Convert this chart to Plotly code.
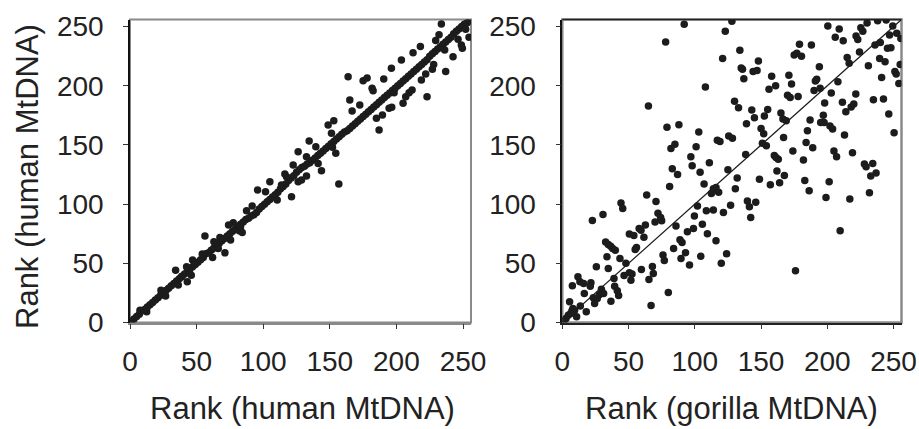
import plotly.graph_objects as go

# ---------------- data ----------------
tick_vals = [0, 50, 100, 150, 200, 250]
tick_text = ["0", "50", "100", "150", "200", "250"]

# left panel: main diagonal band
left_band_x = [1, 3, 5, 7, 9, 11, 13, 15, 17, 19, 21, 23, 25, 27, 29, 31, 33, 35, 37, 39,
               41, 43, 45, 47, 49, 51, 53, 55, 57, 59, 61, 63, 65, 67, 69, 71, 73, 75, 77, 79,
               81, 83, 85, 87, 89, 91, 93, 95, 97, 99, 101, 103, 105, 107, 109, 111, 113, 115, 117, 119,
               121, 123, 125, 127, 129, 131, 133, 135, 137, 139, 141, 143, 145, 147, 149, 151, 153, 155, 157, 159,
               161, 163, 165, 167, 169, 171, 173, 175, 177, 179, 181, 183, 185, 187, 189, 191, 193, 195, 197, 199,
               201, 203, 205, 207, 209, 211, 213, 215, 217, 219, 221, 223, 225, 227, 229, 231, 233, 235, 237, 239,
               241, 243, 245, 247, 249, 251, 253, 255]
left_band_y = [1, 3, 5, 7, 10, 11, 13, 15, 17, 19, 21, 23, 25, 27, 29, 31, 33, 35, 37, 39,
               41, 43, 45, 47, 49, 51, 53, 55, 58, 59, 61, 63, 65, 67, 69, 71, 73, 75, 77, 79,
               81, 83, 85, 87, 88, 90, 91, 93, 96, 98, 100, 102, 104, 106, 108, 110, 113, 115, 117, 120,
               122, 124, 127, 129, 131, 132, 134, 135, 137, 139, 141, 143, 145, 147, 149, 151, 153, 155, 157, 159,
               161, 162, 164, 166, 168, 170, 172, 174, 176, 178, 180, 182, 184, 186, 188, 190, 192, 194, 196, 198,
               200, 202, 204, 206, 208, 210, 212, 214, 216, 218, 220, 222, 225, 227, 229, 231, 233, 235, 237, 239,
               241, 244, 246, 248, 250, 252, 253, 255]

# left panel: points off the band
left_out_x = [163.75, 165, 166.75, 175, 178, 172.5, 181.75, 182.5, 190.5, 196.25, 198.25, 203.75, 212.5, 218,
              187, 189.5, 185, 194.5, 196.5, 205, 207, 209.5, 211.75, 218.75, 222, 223, 227, 228, 229.5,
              233.75, 232, 236.25, 237, 242.5, 246.25, 248.75, 249.5, 254.5, 252, 156.75, 154.5, 152,
              148.75, 153, 151.25, 143.75, 141.25, 139.5, 134.5, 132.5, 126.25, 126.25, 128.75, 132.5,
              122.5, 121.25, 116.25, 117.5, 113.75, 110.5, 105, 101.75, 95.75, 91.75, 87.5, 83, 82, 84.25,
              77.5, 74, 75.5, 71.25, 67.5, 66.25, 62, 63, 56.25, 54.25, 47, 48.5, 43, 46, 42.5, 34.25,
              36.25, 38.75, 23.25, 26.75, 12.5, 7.5]
left_out_y = [207.7, 188, 178.7, 204.3, 206.6, 183.8, 197.9, 195.9, 205.7, 214.8, 194.2, 221.8, 228, 233.1,
              162.6, 175.3, 172.5, 181, 181.8, 185.2, 190.8, 194.2, 196.4, 204.9, 210, 190.8, 213.9, 217.9, 238.2,
              252.3, 243.2, 230.3, 212, 224.6, 239.3, 234.5, 231.7, 241, 247.7, 117, 142.9, 148,
              166.9, 170.5, 159.8, 128.2, 134.4, 148.5, 153.3, 140, 144.3, 118.9, 120.3, 123.7,
              133, 106.3, 125.4, 123.2, 116.1, 103.4, 118.9, 110.5, 111.9, 98.4, 94.4, 80.9, 77.5, 76.1,
              84.3, 82.3, 69.6, 58.9, 71.9, 62.6, 55, 68.2, 73, 57.8, 52.7, 49.9, 34.4, 40, 47, 44.2,
              31.6, 38.6, 27.3, 22.3, 9, 10.4]

# right panel: gorilla rank vs human rank
right_x = [92, 78, 123, 128, 121, 134, 65, 108, 130, 133, 135, 136, 137, 144, 147, 148, 143, 139, 145, 150,
           152, 155, 152.5, 156, 158, 161, 165, 166.5, 169, 171, 173, 170, 172, 178, 175, 177, 179, 180.5, 188, 194,
           191, 192, 190, 194.6, 187, 198, 197, 195, 200.4, 203, 202, 204, 206, 209, 212, 208, 211.4, 214, 215, 216.5,
           218, 220, 221.5, 221.7, 223, 224.3, 225.3, 226.8, 230, 231, 238, 236, 240, 239.5, 243.6, 244.4, 247, 249.4,
           245.4, 248, 241, 242.4, 234.8, 246.4, 250.4, 252.4, 255.5, 252, 251, 255, 254,
           79, 88, 85, 82, 83, 87, 81, 103, 97, 101, 98, 104, 111, 107, 114, 116, 112.5, 118, 117, 119,
           125.6, 128.4, 125, 132, 130.6, 127, 121.6, 108.7, 114, 102, 99.7, 105.7, 109.5, 116, 124, 120, 104.5, 99,
           94.4, 88.8, 90.4, 85.8, 93, 89.6, 96, 84, 76, 77, 80, 67, 138.4, 148.8, 151, 154, 157, 160, 161.3, 163,
           162, 164, 167.6, 167, 174, 182, 184, 185, 189, 183, 186.3, 197.6, 205, 207, 201.4, 199, 213, 219, 217,
           209.7, 228, 229.3, 234.3, 236.8, 232.8, 231.8, 176, 139.7, 141.2, 142.2, 146,
           63.7, 70.7, 72.2, 74.2, 70, 75, 62.7, 58, 59.4, 61.6, 56, 55, 50.6, 54, 44.3, 45.6, 22.7, 30.7, 32.7,
           34.7, 36.5, 38, 40, 33.7, 34.7, 43.5, 48, 46.6, 50.6, 52.6, 51.8, 59.7, 65.4, 68, 68.7, 25.7, 21.6,
           21.1, 16.1, 11.8, 13.3, 7.6, 16.6, 5.5, 13.6, 18.1, 10.8, 8, 9.3, 6.3, 4.5, 2.8, 1.3, 7.3, 24.4, 23.4,
           27.9, 29.5, 31.2, 26.4, 36.7, 39.5, 42.5, 41.5, 39]
right_y = [252, 237, 246, 254.5, 223, 230, 183, 199, 187, 181.5, 215, 214, 206, 212, 213, 221, 179.5, 168, 173, 164,
           159.5, 180, 174.5, 197, 208, 200, 177, 172, 170.5, 209, 201.5, 192, 190, 191, 226, 227.5, 235, 225, 234.5, 216,
           204, 205.5, 196, 198, 171, 185.5, 175, 169, 250.6, 194, 166, 163.5, 241, 248, 238, 203.5, 186, 178, 224, 219,
           182, 184.6, 193, 242, 239, 228.6, 249, 246, 253, 217, 255, 234.5, 236.5, 223, 220.4, 255.5, 243, 250.6,
           231.7, 232.2, 207, 188.8, 188.3, 176.2, 160.4, 244.4, 240, 210, 212, 218, 202,
           165, 167, 150.5, 147, 130, 125, 115, 161, 140, 148.5, 132.5, 127, 135, 117, 113, 114, 109, 110, 154, 153,
           157.6, 155.6, 129, 122, 113, 99, 93, 94.4, 95, 98.4, 90, 83, 75, 69, 58, 50, 56, 79.5,
           76.7, 70, 67.6, 81.5, 59, 54, 48.5, 62.6, 57, 52.4, 25.4, 14.4, 142, 121, 151.4, 149.4, 116.4, 141, 139.5, 138,
           128, 118, 124.3, 156.4, 145, 137.3, 152, 162, 147.7, 120, 111.3, 169, 145, 140, 119, 105.7, 158.4, 143.5, 104.3,
           77.5, 134, 131.6, 134.4, 126.3, 123.7, 109.6, 43.7, 102.6, 97.8, 88.8, 101.7,
           107.7, 102.3, 92.2, 88.8, 85, 86, 82.3, 79.5, 78, 72, 63.4, 61.7, 74.7, 73.6, 101, 96.4, 86.2, 91.3, 68,
           66, 64.5, 62.6, 61, 55.5, 45.7, 54, 50, 39.7, 42, 41, 35.8, 44.8, 36.4, 47.4, 41.4, 47, 33.5,
           30.7, 33, 38.6, 34.4, 31, 24.5, 17.5, 14, 9, 4.8, 11.8, 10.4, 7.6, 6.2, 3.4, 1.4, 9.9, 16, 21,
           23.4, 28, 24.5, 20.3, 18, 30.7, 22.8, 26.8, 37.2]

diag_line = [0, 256]
axis_range = [0, 256]

left_xtitle = "Rank (human MtDNA)"
left_ytitle = "Rank (human MtDNA)"
right_xtitle = "Rank (gorilla MtDNA)"

# ---------------- figure ----------------
W, H = 919, 429
dot = dict(color="#1c1c1c", size=7.5, line=dict(width=0))
font_family = "Liberation Sans, Arial, sans-serif"
txt_color = "#222222"

fig = go.Figure()
fig.add_trace(go.Scatter(x=left_band_x, y=left_band_y, mode="markers", marker=dot,
                         xaxis="x", yaxis="y", showlegend=False, hoverinfo="skip"))
fig.add_trace(go.Scatter(x=left_out_x, y=left_out_y, mode="markers", marker=dot,
                         xaxis="x", yaxis="y", showlegend=False, hoverinfo="skip"))
fig.add_trace(go.Scatter(x=diag_line, y=diag_line, mode="lines",
                         line=dict(color="#1c1c1c", width=1.2),
                         xaxis="x2", yaxis="y2", showlegend=False, hoverinfo="skip"))
fig.add_trace(go.Scatter(x=right_x, y=right_y, mode="markers", marker=dot,
                         xaxis="x2", yaxis="y2", showlegend=False, hoverinfo="skip"))

left_dom_x = [130 / W, 471 / W]
right_dom_x = [562.3 / W, 901.5 / W]
dom_y = [1 - 322.5 / H, 1 - 19.5 / H]

tickfont = dict(family=font_family, size=28, color=txt_color)
titlefont = dict(family=font_family, size=31, color=txt_color)


def xax(domain, anchor, linecolor):
    return dict(domain=domain, anchor=anchor, range=axis_range, tickvals=tick_vals, ticktext=tick_text,
                showgrid=False, zeroline=False, showline=True, linecolor=linecolor, linewidth=1.5,
                ticks="outside", ticklen=5, tickwidth=1.2, tickcolor="#333333",
                tickfont=tickfont, ticklabelstandoff=8, fixedrange=True, automargin=False)


def yax(anchor):
    return dict(domain=dom_y, anchor=anchor, range=axis_range, tickvals=tick_vals, ticktext=tick_text,
                showgrid=False, zeroline=False, showline=True, linecolor="#111111", linewidth=1.5,
                ticks="outside", ticklen=5, tickwidth=1.2, tickcolor="#333333",
                tickfont=tickfont, ticklabelstandoff=14, fixedrange=True, automargin=False)


fig.update_layout(
    width=W, height=H,
    margin=dict(l=0, r=0, t=0, b=0),
    paper_bgcolor="white", plot_bgcolor="white",
    font=dict(family=font_family, color=txt_color),
    xaxis=xax(left_dom_x, "y", "#8a8a8a"),
    yaxis=yax("x"),
    xaxis2=xax(right_dom_x, "y2", "#222222"),
    yaxis2=yax("x2"),
    shapes=[
        dict(type="rect", xref="paper", yref="paper", x0=left_dom_x[0], x1=left_dom_x[1],
             y0=dom_y[0], y1=dom_y[1], line=dict(color="#8a8a8a", width=2), layer="below"),
        dict(type="rect", xref="paper", yref="paper", x0=right_dom_x[0], x1=right_dom_x[1],
             y0=dom_y[0], y1=dom_y[1], line=dict(color="#8a8a8a", width=2.5), layer="below"),
        dict(type="line", xref="paper", yref="paper", x0=right_dom_x[0], x1=right_dom_x[1],
             y0=dom_y[1], y1=dom_y[1], line=dict(color="#222222", width=1.5), layer="below"),
    ],
    annotations=[
        dict(text=left_xtitle, xref="paper", yref="paper", x=302 / W, y=1 - 408 / H,
             xanchor="center", yanchor="middle", showarrow=False, font=titlefont),
        dict(text=right_xtitle, xref="paper", yref="paper", x=731.5 / W, y=1 - 408 / H,
             xanchor="center", yanchor="middle", showarrow=False, font=titlefont),
        dict(text=left_ytitle, xref="paper", yref="paper", x=27 / W, y=1 - 177 / H,
             xanchor="center", yanchor="middle", showarrow=False, textangle=-90, font=titlefont),
    ],
)

fig.write_html("out.html", config={"responsive": False, "displayModeBar": False},
               post_script="document.body.style.margin='0px';document.body.style.overflow='hidden';")
